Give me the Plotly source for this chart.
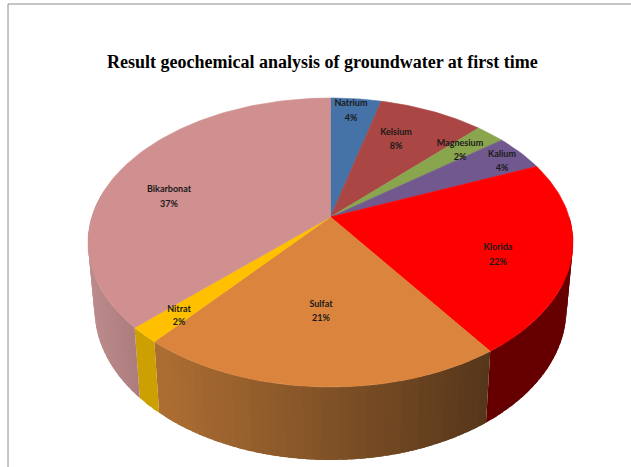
import math
import plotly.graph_objects as go

# --- data ---
TITLE = "Result geochemical analysis of groundwater at first time"
CATEGORIES = ["Natrium", "Kelsium", "Magnesium", "Kalium", "Klorida", "Sulfat", "Nitrat", "Bikarbonat"]
VALUES = [4.0, 8.3, 2.3, 4.1, 21.6, 20.7, 1.8, 37.2]

# --- styles ---
TOP_COLORS = ["#4572A7", "#AA4643", "#89A54E", "#71588F", "#FF0000", "#DB843D", "#FFC000", "#D09090"]
# wall colour at the left and right end of each slice's visible side
WALL_LEFT = {"Klorida": "#660000", "Sulfat": "#AD6E33", "Nitrat": "#CCA000", "Bikarbonat": "#B68686"}
WALL_RIGHT = {"Klorida": "#660000", "Sulfat": "#54351A", "Nitrat": "#CCA000", "Bikarbonat": "#AC7B7B"}

# --- layout of the projected pie, in page pixels ---
W, H = 631, 467
K = 0.1765           # perspective strength
TOP = dict(cx=330.5, cy=217.0, a=238.7, b=140.0)
LOW = dict(cx=330.5, cy=282.4, a=232.3, b=146.3)
LABEL_X = [351, 396, 460, 502, 498, 321, 179, 169]
NAME_Y = [104, 133, 144, 155, 248, 305, 310, 190]
SHARE_Y = [119, 147, 158, 169, 263, 319, 323, 205]


def project(frac, r, d):
    """Angle from a cumulative share (clockwise from 12 o'clock) to page pixels."""
    t = 2 * math.pi * frac
    u, v = r * math.sin(t), r * math.cos(t)
    w = 1 + K * v
    return d["cx"] + d["a"] * u / w, d["cy"] - d["b"] * v / w


def mix(c1, c2, s):
    a = [int(c1[i:i + 2], 16) for i in (1, 3, 5)]
    b = [int(c2[i:i + 2], 16) for i in (1, 3, 5)]
    return "#%02x%02x%02x" % tuple(round(p + (q - p) * s) for p, q in zip(a, b))


def add_fill(fig, xs, ys, color, lw=0.6):
    fig.add_trace(go.Scatter(x=xs, y=ys, mode="lines", fill="toself", fillcolor=color,
                             line=dict(color=color, width=lw), hoverinfo="skip", showlegend=False))


total = sum(VALUES)
starts, c = [], 0.0
for v in VALUES:
    starts.append(c)
    c += v / total

fig = go.Figure()

# side walls as narrow overlapping strips, so the shading can vary along the rim
for name, start, val in zip(CATEGORIES, starts, VALUES):
    if name not in WALL_LEFT:
        continue
    end = start + val / total
    lo, hi = max(start, 0.25), min(end, 0.78)   # only the part that faces the viewer
    if hi <= lo:
        continue
    n = max(1, int((hi - lo) * 200))
    xa, xb = project(lo, 1, TOP)[0], project(hi, 1, TOP)[0]
    for i in range(n):
        f0 = lo + (hi - lo) * i / n
        # each strip reaches under its neighbour, which hides the seams
        f1 = hi if i == 0 and n == 1 else lo + (hi - lo) * (i + 1) / n
        f0x = max(lo, f0 - 0.004)
        pts = [project(f0x + (f0 - f0x) * j / 3, 1, TOP) for j in range(4)]
        pts += [project(f0 + (f1 - f0) * j / 3, 1, TOP) for j in range(1, 4)]
        pts += [project(f0 + (f1 - f0) * j / 3, 1, LOW) for j in range(3, 0, -1)]
        pts += [project(f0x + (f0 - f0x) * j / 3, 1, LOW) for j in range(3, -1, -1)]
        xm = project((f0 + f1) / 2, 1, TOP)[0]
        s = (xm - xb) / (xa - xb) if xa != xb else 0
        add_fill(fig, [p[0] for p in pts], [p[1] for p in pts],
                 mix(WALL_LEFT[name], WALL_RIGHT[name], s), lw=0)

# top face
for start, val, col in zip(starts, VALUES, TOP_COLORS):
    end = start + val / total
    n = max(4, int(val * 3))
    rim = [project(start + (end - start) * i / n, 1, TOP) for i in range(n + 1)]
    xs = [TOP["cx"]] + [p[0] for p in rim] + [TOP["cx"]]
    ys = [TOP["cy"]] + [p[1] for p in rim] + [TOP["cy"]]
    add_fill(fig, xs, ys, col)

# labels: name and share are separate so their line gap can match the reference
label_font = dict(family="Lato", size=9, color="#1A1A1A")
fig.add_trace(go.Scatter(
    x=LABEL_X, y=NAME_Y, mode="text", text=[f"<b>{n}</b>" for n in CATEGORIES],
    textposition="middle center", textfont=label_font, hoverinfo="skip", showlegend=False))
fig.add_trace(go.Scatter(
    x=LABEL_X, y=SHARE_Y, mode="text", text=[f"<b>{round(v)}%</b>" for v in VALUES],
    textposition="middle center", textfont=label_font, hoverinfo="skip", showlegend=False))

fig.update_layout(
    width=W, height=H, autosize=False,
    margin=dict(l=0, r=0, t=0, b=0),
    paper_bgcolor="#FFFFFF", plot_bgcolor="#FFFFFF",
    xaxis=dict(range=[0, W], visible=False, fixedrange=True),
    yaxis=dict(range=[H, 0], visible=False, fixedrange=True),
    shapes=[
        dict(type="line", x0=8, y0=4, x1=W, y1=4, line=dict(color="#8C8C8C", width=1)),
        dict(type="line", x0=8, y0=4, x1=8, y1=H, line=dict(color="#8C8C8C", width=1)),
    ],
    annotations=[dict(text=f"<b>{TITLE}</b>", x=322, y=62, xref="x", yref="y", showarrow=False,
                      font=dict(family="Liberation Serif", size=18, color="#000000"))],
)
fig.write_html("out.html", config=dict(displayModeBar=False),
               post_script="document.body.style.margin='0';document.documentElement.style.overflow='hidden';")
